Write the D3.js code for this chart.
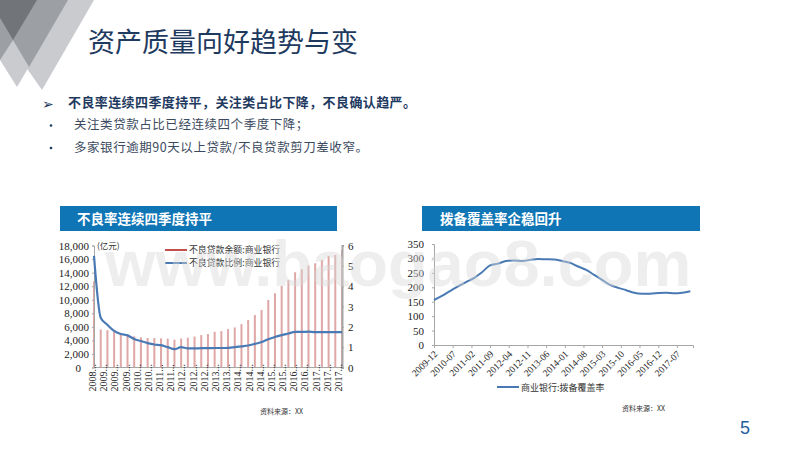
<!DOCTYPE html>
<html>
<head>
<meta charset="utf-8">
<script src="https://cdn.jsdelivr.net/npm/d3@7"></script>
<style>
body{margin:0;background:#fff;}
svg{display:block;}
text{font-family:"Noto Sans CJK SC",sans-serif;}
.num text,text.num{font-family:"Liberation Serif",serif;}
</style>
</head>
<body>
<div class="chart"></div>
<script>
// 左图：不良贷款余额（亿元）、不良贷款比例（%），季度
const quarters = ['2008-09','2008-12','2009-03','2009-06','2009-09','2009-12','2010-03','2010-06','2010-09','2010-12',
  '2011-03','2011-06','2011-09','2011-12','2012-03','2012-06','2012-09','2012-12','2013-03','2013-06','2013-09','2013-12',
  '2014-03','2014-06','2014-09','2014-12','2015-03','2015-06','2015-09','2015-12','2016-03','2016-06','2016-09','2016-12',
  '2017-03','2017-06','2017-09','2017-12'];
const nplBalance = [12700,5600,5500,5300,5000,4900,4600,4450,4350,4350,4300,4250,4100,4280,4400,4560,
  4780,4930,5270,5370,5670,5910,6400,7000,7740,8480,9960,10950,12030,12900,14050,14500,15040,15380,15870,16470,16600,17350];
const nplRatio = [5.49,2.45,2.1,1.8,1.65,1.58,1.4,1.3,1.2,1.13,1.1,1.0,0.9,1.0,0.94,0.94,
  0.95,0.95,0.96,0.96,0.97,1.0,1.04,1.08,1.16,1.25,1.39,1.5,1.59,1.67,1.75,1.75,1.76,1.74,1.74,1.74,1.74,1.74];
const leftTickLabels = ['2008','2009','2009','2009','2010','2010','2011','2011','2012','2012','2012','2013','2013',
  '2014','2014','2014','2015','2015','2016','2016','2017','2017','2017'];
const leftBalanceTicks = [0,2000,4000,6000,8000,10000,12000,14000,16000,18000];
const leftRatioTicks = [0,1,2,3,4,5,6];

// 右图：拨备覆盖率（%），季度
const coverageDates = ['2009-12','2010-03','2010-06','2010-09','2010-12','2011-03','2011-06','2011-09','2011-12',
  '2012-03','2012-06','2012-09','2012-12','2013-03','2013-06','2013-09','2013-12','2014-03','2014-06','2014-09','2014-12',
  '2015-03','2015-06','2015-09','2015-12','2016-03','2016-06','2016-09','2016-12','2017-03','2017-06','2017-09','2017-12'];
const coverageValues = [156,170,187,203,218,232,252,276,282,291,293,291,295,298,297,296,291,285,272,260,243,
  226,208,198,190,181,178,178,180,181,179,181,186];
const coverageTickLabels = ['2009-12','2010-07','2011-02','2011-09','2012-04','2012-11','2013-06','2014-01',
  '2014-08','2015-03','2015-10','2016-05','2016-12','2017-07'];
const coverageYTicks = [0,50,100,150,200,250,300,350];

const bullets = ['关注类贷款占比已经连续四个季度下降；','多家银行逾期90天以上贷款/不良贷款剪刀差收窄。'];

const svg = d3.select('.chart').append('svg').attr('width',800).attr('height',450);
const axisGrey = '#a6a6a6', lineBlue = '#4a7ab4', barRed = '#c0504d', titleBlue = '#1f3a5f';

// 左上角三角形装饰
const deco = [
  ['#c9cbce','42,90 94,0 0,0 0,30'],
  ['#c9cbce','17,87 40,48 0,0 0,60'],
  ['#9c9fa3','29,67 68,0 0,0 0,18 13,40'],
  ['#9c9fa3','0,60 13,40 0,18'],
  ['#717478','13,40 37,0 0,0 0,18']
];
svg.selectAll('polygon.deco').data(deco).enter().append('polygon')
  .attr('class','deco').attr('fill',d=>d[0]).attr('points',d=>d[1]);

// 标题和要点
svg.append('text').attr('x',88).attr('y',52).attr('font-size',27).attr('letter-spacing',0)
  .attr('fill',titleBlue).text('资产质量向好趋势与变');
svg.append('text').attr('x',42).attr('y',109).attr('font-size',14).attr('fill',titleBlue).text('➢');
svg.append('text').attr('x',68).attr('y',107).attr('font-size',13).attr('font-weight','bold').attr('letter-spacing',0.4)
  .attr('fill',titleBlue).text('不良率连续四季度持平，关注类占比下降，不良确认趋严。');
bullets.forEach(function(t,i){
  const y = 129+i*22.5;
  svg.append('circle').attr('cx',51).attr('cy',y-3.5).attr('r',1.3).attr('fill',titleBlue);
  svg.append('text').attr('x',74).attr('y',y).attr('font-size',12.5).attr('letter-spacing',0.55).attr('fill','#3b4a5e').text(t);
});

// 蓝色小标题
[[60,277,'不良率连续四季度持平',77],[422,278,'拨备覆盖率企稳回升',440]].forEach(function(h){
  svg.append('rect').attr('x',h[0]).attr('y',206).attr('width',h[1]).attr('height',25).attr('fill','#0f75b5');
  svg.append('text').attr('x',h[3]).attr('y',223.5).attr('font-size',13.5).attr('font-weight','bold')
    .attr('fill','#fff').text(h[2]);
});

// 左图
const scaleX = d3.scalePoint().domain(quarters).range([94,342]);
const scaleTick = d3.scalePoint().domain(d3.range(leftTickLabels.length)).range([92,338]);
const scaleY = d3.scaleLinear().domain([0,18000]).range([367.5,245.5]);
const scaleR = d3.scaleLinear().domain([0,6]).range([367.5,245.5]);

function styleAxis(g){
  g.selectAll('path,line').attr('stroke',axisGrey);
  g.selectAll('text').attr('fill','#222');
}
svg.selectAll('.bar').data(quarters).enter().append('rect')
  .attr('class','bar')
  .attr('x',d=>scaleX(d)-1)
  .attr('y',(d,i)=>scaleY(nplBalance[i]))
  .attr('width',2)
  .attr('height',(d,i)=>scaleY(0)-scaleY(nplBalance[i]))
  .attr('fill',barRed).attr('opacity',0.5);

svg.append('g').attr('class','num').attr('transform','translate(94,0)')
  .call(d3.axisLeft(scaleY).tickValues(leftBalanceTicks).tickFormat(d3.format(',')).tickSize(2).tickPadding(3))
  .call(styleAxis).call(g=>g.selectAll('text').attr('font-size',11))
  .call(g=>g.selectAll('.tick').filter(d=>d===0).select('text').attr('dx',-8));
svg.append('g').attr('class','num').attr('transform','translate(342,0)')
  .call(d3.axisRight(scaleR).tickValues(leftRatioTicks).tickFormat(d3.format('d')).tickSize(2).tickPadding(4))
  .call(styleAxis).call(g=>g.selectAll('text').attr('font-size',11))
  .call(g=>g.select('path').attr('stroke-width',2));
svg.append('g').attr('class','num').attr('transform','translate(0,367.5)')
  .call(d3.axisBottom(scaleTick).tickFormat(i=>leftTickLabels[i]+'...').tickSize(0))
  .call(g=>g.select('path').attr('d','M94,0H342').attr('stroke',axisGrey))
  .call(g=>g.selectAll('text').attr('font-size',10).attr('fill','#222')
    .attr('text-anchor','start').attr('dy',0).attr('y',0)
    .attr('transform','translate(3.5,24) rotate(-90)'));

svg.append('path').datum(nplRatio)
  .attr('fill','none').attr('stroke',lineBlue).attr('stroke-width',2.2)
  .attr('d',d3.line().x((d,i)=>scaleX(quarters[i])).y(d=>scaleR(d)).curve(d3.curveMonotoneX));

svg.append('text').attr('x',97).attr('y',249).attr('font-size',8.5).attr('fill','#333').text('(亿元)');
[[250,barRed,'不良贷款余额:商业银行'],[263,lineBlue,'不良贷款比例:商业银行']].forEach(function(l){
  svg.append('line').attr('x1',165).attr('x2',187).attr('y1',l[0]).attr('y2',l[0]).attr('stroke',l[1]).attr('stroke-width',2);
  svg.append('text').attr('x',189).attr('y',l[0]+3).attr('font-size',8.9).attr('fill','#333').text(l[2]);
});

// 右图
const parseMonth = d3.timeParse('%Y-%m');
const scaleT = d3.scaleTime().domain([parseMonth('2009-12'),parseMonth('2018-01')]).range([434,693]);
const scaleC = d3.scaleLinear().domain([0,350]).range([345,244]);
svg.append('g').attr('class','num').attr('transform','translate(434,0)')
  .call(d3.axisLeft(scaleC).tickValues(coverageYTicks).tickSize(2).tickPadding(8))
  .call(styleAxis).call(g=>g.selectAll('text').attr('font-size',11));
svg.append('g').attr('class','num').attr('transform','translate(0,345)')
  .call(d3.axisBottom(scaleT).tickValues(coverageTickLabels.map(parseMonth)).tickFormat(d3.timeFormat('%Y-%m')).tickSize(3).tickPadding(2))
  .call(styleAxis)
  .call(g=>g.selectAll('text').attr('font-size',9.5).attr('text-anchor','end')
    .attr('dy','0.3em').attr('transform','translate(-2,4) rotate(-45)'));
svg.append('path').datum(coverageValues)
  .attr('fill','none').attr('stroke',lineBlue).attr('stroke-width',2)
  .attr('d',d3.line().x((d,i)=>scaleT(parseMonth(coverageDates[i]))).y(d=>scaleC(d)).curve(d3.curveMonotoneX));
svg.append('line').attr('x1',497).attr('x2',519).attr('y1',387).attr('y2',387).attr('stroke',lineBlue).attr('stroke-width',2);
svg.append('text').attr('x',521).attr('y',390.5).attr('font-size',9).attr('fill','#333').text('商业银行:拨备覆盖率');

// 资料来源、页码
svg.append('text').attr('x',260).attr('y',414).attr('font-size',7).attr('fill','#333').text('资料来源：XX');
svg.append('text').attr('x',622).attr('y',411).attr('font-size',7).attr('fill','#333').text('资料来源：XX');
svg.append('text').attr('x',740).attr('y',434).attr('font-size',18).attr('fill','#1f5f9f')
  .style('font-family','"Liberation Sans",sans-serif').text('5');

// 水印
svg.append('text').attr('x',105).attr('y',286).attr('font-size',65).attr('font-weight','bold')
  .style('font-family','"Liberation Sans",sans-serif').attr('fill','#d8d8d8').attr('opacity',0.42).text('www.baogao8.com');
</script>
</body>
</html>
